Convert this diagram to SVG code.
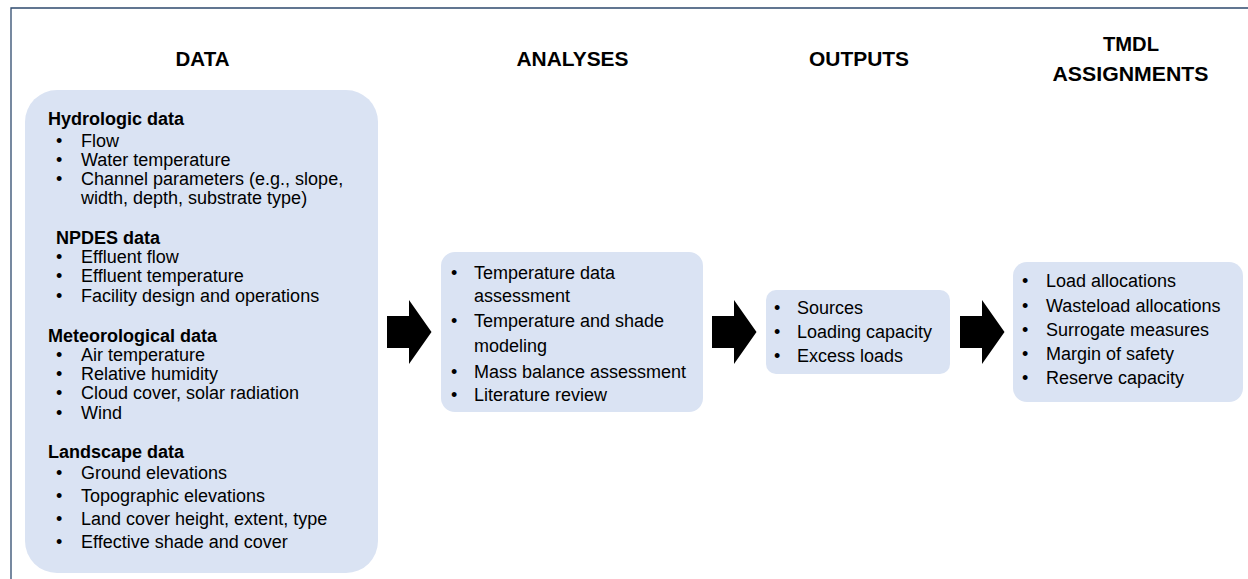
<svg xmlns="http://www.w3.org/2000/svg" width="1248" height="579" viewBox="0 0 1248 579">
<style>
.frame{fill:none;stroke:#2E4A6E;stroke-width:1.3}
.box{fill:#DAE3F3}
.title{font-family:"Liberation Sans",Arial,sans-serif;font-weight:bold;font-size:21px;fill:#000;text-anchor:middle}
.h{font-family:"Liberation Sans",Arial,sans-serif;font-weight:bold;font-size:18px;fill:#000}
.t{font-family:"Liberation Sans",Arial,sans-serif;font-size:18px;fill:#000}
.arrow{fill:#000}
</style>
<defs>
<path id="arr" d="M0,0 H22 V-16 L44.5,16 L22,48 V32 H0 Z"/>
</defs>
<rect width="1248" height="579" fill="#fff"/>
<path class="frame" d="M11,579 V8 H1248"/>
<g id="titles">
<text class="title" x="202.5" y="66" textLength="54" lengthAdjust="spacingAndGlyphs">DATA</text>
<text class="title" x="572.5" y="66" textLength="112" lengthAdjust="spacingAndGlyphs">ANALYSES</text>
<text class="title" x="859" y="66" textLength="100" lengthAdjust="spacingAndGlyphs">OUTPUTS</text>
<text class="title" x="1131" y="51" textLength="56" lengthAdjust="spacingAndGlyphs">TMDL</text>
<text class="title" x="1130.5" y="81" textLength="156" lengthAdjust="spacingAndGlyphs">ASSIGNMENTS</text>
</g>
<g id="data">
<rect class="box" x="25" y="90" width="353" height="483" rx="32"/>
<text class="h" x="48" y="125">Hydrologic data</text>
<g class="t">
<text x="56" y="147">•</text><text x="81" y="147">Flow</text>
<text x="56" y="166">•</text><text x="81" y="166">Water temperature</text>
<text x="56" y="185">•</text><text x="81" y="185">Channel parameters (e.g., slope,</text>
<text x="81" y="204">width, depth, substrate type)</text>
</g>
<text class="h" x="56" y="244">NPDES data</text>
<g class="t">
<text x="56" y="263">•</text><text x="81" y="263">Effluent flow</text>
<text x="56" y="282">•</text><text x="81" y="282">Effluent temperature</text>
<text x="56" y="302">•</text><text x="81" y="302">Facility design and operations</text>
</g>
<text class="h" x="48" y="342">Meteorological data</text>
<g class="t">
<text x="56" y="361">•</text><text x="81" y="361">Air temperature</text>
<text x="56" y="380">•</text><text x="81" y="380">Relative humidity</text>
<text x="56" y="399">•</text><text x="81" y="399">Cloud cover, solar radiation</text>
<text x="56" y="419">•</text><text x="81" y="419">Wind</text>
</g>
<text class="h" x="48" y="458">Landscape data</text>
<g class="t">
<text x="56" y="479">•</text><text x="81" y="479">Ground elevations</text>
<text x="56" y="502">•</text><text x="81" y="502">Topographic elevations</text>
<text x="56" y="525">•</text><text x="81" y="525">Land cover height, extent, type</text>
<text x="56" y="548">•</text><text x="81" y="548">Effective shade and cover</text>
</g>
</g>
<g id="analyses">
<rect class="box" x="441" y="252" width="262" height="160" rx="14"/>
<g class="t">
<text x="451" y="279">•</text><text x="474" y="279">Temperature data</text>
<text x="474" y="302">assessment</text>
<text x="451" y="327">•</text><text x="474" y="327">Temperature and shade</text>
<text x="474" y="352">modeling</text>
<text x="451" y="378">•</text><text x="474" y="378">Mass balance assessment</text>
<text x="451" y="401">•</text><text x="474" y="401">Literature review</text>
</g>
</g>
<g id="outputs">
<rect class="box" x="766" y="290" width="184" height="84" rx="10"/>
<g class="t">
<text x="774" y="314">•</text><text x="797" y="314">Sources</text>
<text x="774" y="338">•</text><text x="797" y="338">Loading capacity</text>
<text x="774" y="362">•</text><text x="797" y="362">Excess loads</text>
</g>
</g>
<g id="tmdl">
<rect class="box" x="1013" y="262" width="230" height="140" rx="14"/>
<g class="t">
<text x="1022" y="287">•</text><text x="1046" y="287">Load allocations</text>
<text x="1022" y="312">•</text><text x="1046" y="312">Wasteload allocations</text>
<text x="1022" y="336">•</text><text x="1046" y="336">Surrogate measures</text>
<text x="1022" y="360">•</text><text x="1046" y="360">Margin of safety</text>
<text x="1022" y="384">•</text><text x="1046" y="384">Reserve capacity</text>
</g>
</g>
<g id="connectors">
<use href="#arr" class="arrow" x="387" y="316"/>
<use href="#arr" class="arrow" x="712" y="316"/>
<use href="#arr" class="arrow" x="960" y="316"/>
</g>
</svg>
